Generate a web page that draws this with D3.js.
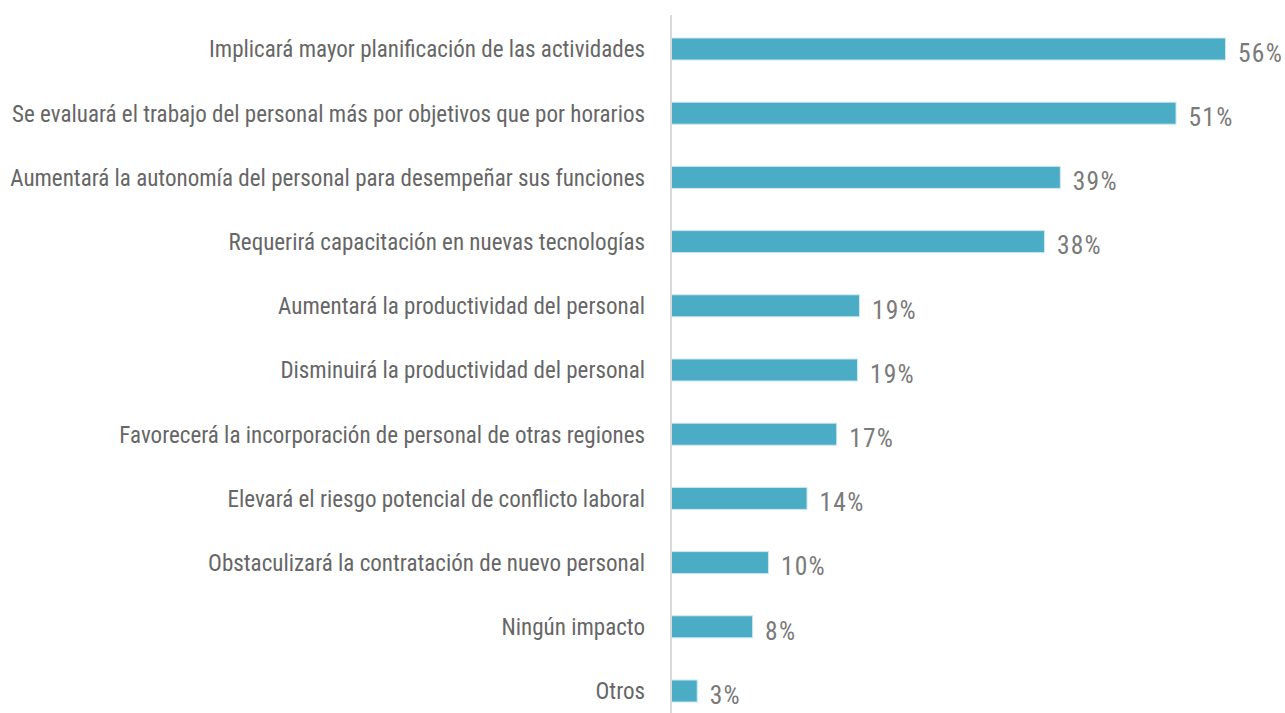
<!DOCTYPE html>
<html><head><meta charset="utf-8">
<script src="https://cdnjs.cloudflare.com/ajax/libs/d3/7.8.5/d3.min.js"></script>
<style>body{margin:0;background:#fff;} svg{display:block;}</style>
</head><body>
<svg id="c" width="1285" height="713"></svg>
<script>
const categories = [
  "Implicará mayor planificación de las actividades",
  "Se evaluará el trabajo del personal más por objetivos que por horarios",
  "Aumentará la autonomía del personal para desempeñar sus funciones",
  "Requerirá capacitación en nuevas tecnologías",
  "Aumentará la productividad del personal",
  "Disminuirá la productividad del personal",
  "Favorecerá la incorporación de personal de otras regiones",
  "Elevará el riesgo potencial de conflicto laboral",
  "Obstaculizará la contratación de nuevo personal",
  "Ningún impacto",
  "Otros"
];
const values = [56, 51, 39.3, 37.7, 19.0, 18.8, 16.7, 13.7, 9.8, 8.2, 2.6];
const valueLabels = ["56%","51%","39%","38%","19%","19%","17%","14%","10%","8%","3%"];

const svg = d3.select("#c");
const x0 = 671;
const x = d3.scaleLinear().domain([0, 60]).range([x0, x0 + 554 * 60 / 56]);
const y = d3.scalePoint().domain(categories).range([49, 691]);
const barH = 22;
const font = "'Roboto Condensed','Liberation Sans Narrow',Roboto,sans-serif";

// bars
svg.selectAll("rect.bar").data(categories).join("rect")
  .attr("class","bar")
  .attr("x", x(0) + 0.5)
  .attr("y", d => y(d) - barH/2)
  .attr("width", (d,i) => x(values[i]) - x(0))
  .attr("height", barH)
  .attr("fill", "#4BACC6")
  .attr("stroke", "#CDE8F0")
  .attr("stroke-width", 1);

// axis line
svg.append("line").attr("x1", x0).attr("x2", x0).attr("y1", 15).attr("y2", 713)
  .attr("stroke", "#d9d9d9").attr("stroke-width", 2);

// category labels
const yAxis = d3.axisLeft(y).tickSize(0).tickPadding(0);
const ga = svg.append("g").attr("transform", `translate(645,0)`).call(yAxis);
ga.select(".domain").remove();
ga.selectAll("text")
  .attr("font-family", font).attr("font-size", 23).attr("fill", "#666666")
  .attr("dy", "0.34em");
let maxW = 0;
ga.selectAll("text").each(function(){ maxW = Math.max(maxW, this.getComputedTextLength()); });
const sx = 635 / maxW;
ga.selectAll("text").attr("transform", `scale(${sx},1)`).attr("x", 0);

// value labels
const vl = svg.selectAll("g.val").data(categories).join("g")
  .attr("class","val")
  .attr("transform", (d,i) => `translate(${x(values[i]) + 13},${y(d) + 4})`);
const vt = vl.append("text")
  .attr("dy", "0.35em")
  .attr("font-family", font).attr("font-size", 25)
  .attr("letter-spacing", "1.2px")
  .attr("fill", "#7a7a7a")
  .text((d,i) => valueLabels[i]);
const w0 = vt.node().getComputedTextLength();
const vsx = 45 / w0;
vt.attr("transform", `scale(${vsx},1)`);
</script>
</body></html>
